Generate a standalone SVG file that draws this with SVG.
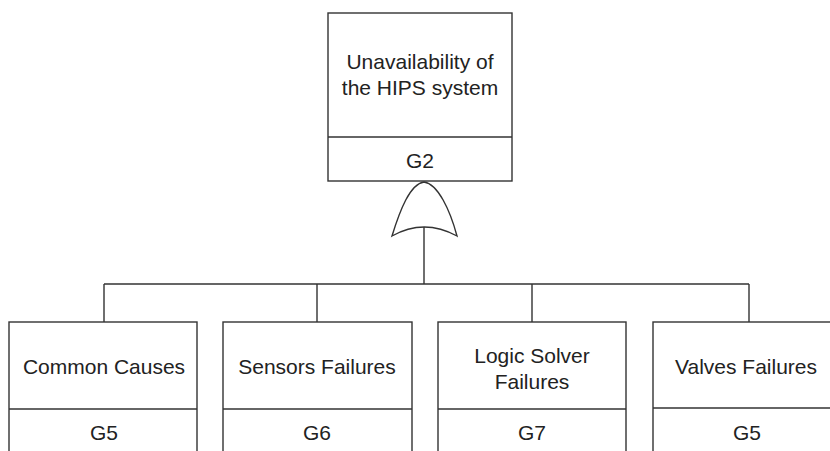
<svg xmlns="http://www.w3.org/2000/svg" width="830" height="451" viewBox="0 0 830 451">
<style>
.box{fill:#fff;stroke:#333;stroke-width:1.4}
.ln{fill:none;stroke:#333;stroke-width:1.4}
.t{font-family:"Liberation Sans",Arial,sans-serif;font-size:21px;fill:#222;text-anchor:middle}
</style>
<rect width="830" height="451" fill="#fff"/>
<g id="connectors">
<path class="ln" d="M424,227 V284 M104,284 H749 M104,284 V322 M317,284 V322 M532,284 V322 M749,284 V322"/>
</g>
<g id="gate">
<path class="ln" stroke-width="1.6" d="M392,236 C400,210 410,184 424,182 C438,184 450,210 457,236 Q424,218 392,236 Z"/>
</g>
<g id="G2">
<rect class="box" x="328" y="13" width="184" height="168"/>
<line class="ln" x1="328" y1="137" x2="512" y2="137"/>
<text class="t" x="420" y="69">Unavailability of</text>
<text class="t" x="420" y="95">the HIPS system</text>
<text class="t" x="420" y="168">G2</text>
</g>
<g id="G5a">
<rect class="box" x="9" y="322" width="188" height="140"/>
<line class="ln" x1="9" y1="409" x2="197" y2="409"/>
<text class="t" x="104" y="374">Common Causes</text>
<text class="t" x="104" y="440">G5</text>
</g>
<g id="G6">
<rect class="box" x="223" y="322" width="189" height="140"/>
<line class="ln" x1="223" y1="409" x2="412" y2="409"/>
<text class="t" x="317" y="374">Sensors Failures</text>
<text class="t" x="317" y="440">G6</text>
</g>
<g id="G7">
<rect class="box" x="438" y="322" width="188" height="140"/>
<line class="ln" x1="438" y1="409" x2="626" y2="409"/>
<text class="t" x="532" y="363">Logic Solver</text>
<text class="t" x="532" y="389">Failures</text>
<text class="t" x="532" y="440">G7</text>
</g>
<g id="G5b">
<rect class="box" x="653" y="322" width="188" height="140"/>
<line class="ln" x1="653" y1="408" x2="841" y2="408"/>
<text class="t" x="746" y="374">Valves Failures</text>
<text class="t" x="747" y="440">G5</text>
</g>
</svg>
